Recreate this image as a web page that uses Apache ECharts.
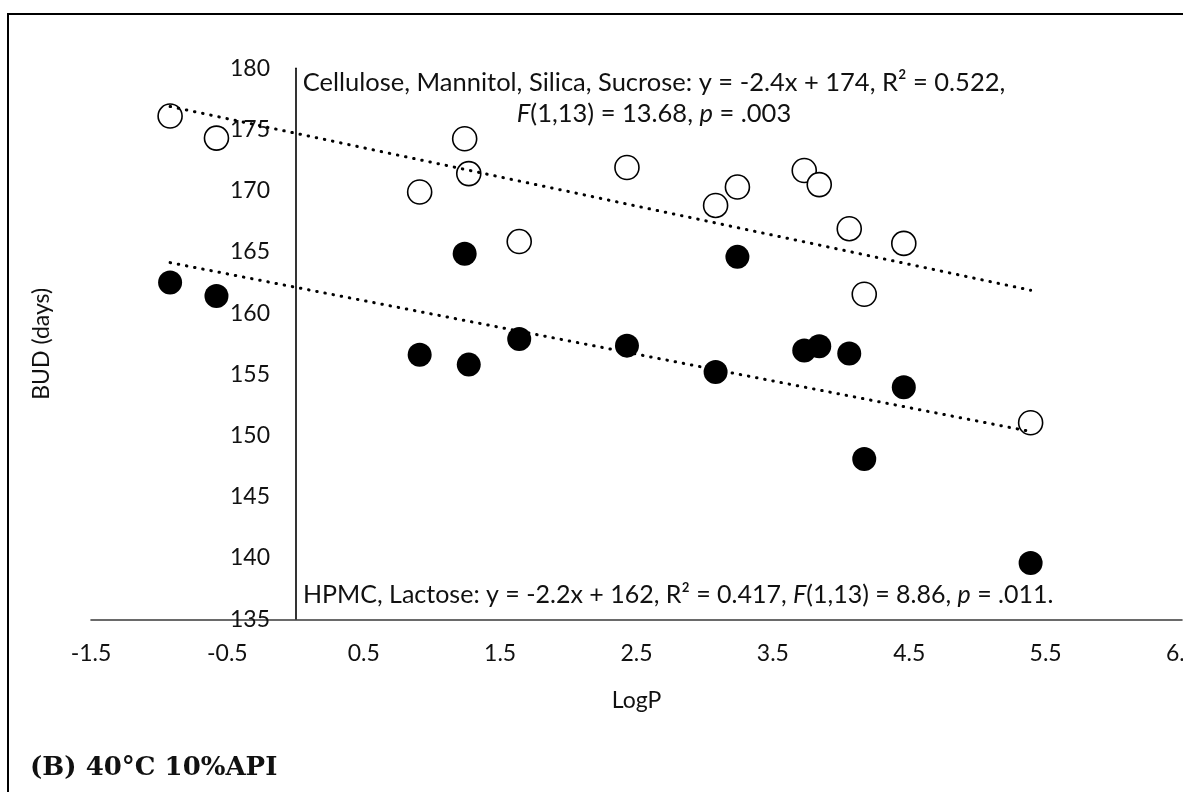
<!DOCTYPE html>
<html>
<head>
<meta charset="utf-8">
<script src="https://cdn.jsdelivr.net/npm/echarts@6/dist/echarts.min.js"></script>
<style>
html,body{margin:0;padding:0;background:#fff;}
#chart{width:1183px;height:792px;}
</style>
</head>
<body>
<div id="chart"></div>
<script>
// ---- data ----
const logP = [-0.92, -0.58, 0.91, 1.24, 1.27, 1.64, 2.43, 3.08, 3.24, 3.73, 3.84, 4.06, 4.17, 4.46, 5.39];
const budCellulose = [176.1, 174.3, 169.9, 174.25, 171.4, 165.85, 171.9, 168.8, 170.3, 171.65, 170.5, 166.9, 161.55, 165.7, 151.05];
const budHPMC = [162.5, 161.4, 156.6, 164.85, 155.8, 157.9, 157.35, 155.2, 164.6, 156.95, 157.3, 156.7, 148.1, 153.95, 139.6];
const xTicks = [-1.5, -0.5, 0.5, 1.5, 2.5, 3.5, 4.5, 5.5, 6.5];
const yTicks = [135, 140, 145, 150, 155, 160, 165, 170, 175, 180];

// least-squares linear trendline over the data range
function trend(xs, ys) {
  const n = xs.length;
  let sx = 0, sy = 0, sxx = 0, sxy = 0;
  for (let i = 0; i < n; i++) { sx += xs[i]; sy += ys[i]; sxx += xs[i]*xs[i]; sxy += xs[i]*ys[i]; }
  const b = (n*sxy - sx*sy) / (n*sxx - sx*sx);
  const a = (sy - b*sx) / n;
  const x0 = Math.min(...xs), x1 = Math.max(...xs);
  return [[x0, a + b*x0], [x1, a + b*x1]];
}
const pts = (xs, ys) => xs.map((x, i) => [x, ys[i]]);

const FONT = 'Lato';
const chart = echarts.init(document.getElementById('chart'), null, {renderer: 'canvas'});
const dotted = {color: '#000', width: 3, type: [0.5, 7.8], cap: 'round'};

chart.setOption({
  animation: false,
  backgroundColor: '#fff',
  grid: {left: 91, right: 1, top: 68.3, bottom: 172.7, containLabel: false, outerBoundsMode: 'none'},
  xAxis: {
    type: 'value', min: -1.5, max: 6.5,
    name: 'LogP', nameLocation: 'middle', nameGap: 70,
    nameTextStyle: {fontFamily: FONT, fontSize: 23, color: '#111'},
    axisLine: {show: true, onZero: false, lineStyle: {color: '#3a3a3a', width: 1.6}},
    axisTick: {show: false},
    splitLine: {show: false},
    axisLabel: {customValues: xTicks, fontFamily: FONT, fontSize: 23, color: '#111', margin: 23,
      showMinLabel: true, showMaxLabel: true, hideOverlap: false}
  },
  yAxis: {
    type: 'value', min: 135, max: 180, interval: 5,
    name: 'BUD (days)', nameLocation: 'middle', nameGap: 38, nameRotate: 90,
    nameTextStyle: {fontFamily: FONT, fontSize: 23, color: '#111'},
    axisLine: {show: true, onZero: true, lineStyle: {color: '#000', width: 1.6}},
    axisTick: {show: false},
    splitLine: {show: false},
    axisLabel: {customValues: yTicks, fontFamily: FONT, fontSize: 23, color: '#111', margin: -179}
  },
  series: [
    {
      name: 'Cellulose, Mannitol, Silica, Sucrose', type: 'scatter', z: 2,
      data: pts(logP, budCellulose), symbol: 'circle', symbolSize: 24,
      itemStyle: {color: '#fff', borderColor: '#000', borderWidth: 1.6, opacity: 1}
    },
    {
      name: 'HPMC, Lactose', type: 'scatter', z: 2,
      data: pts(logP, budHPMC), symbol: 'circle', symbolSize: 24,
      itemStyle: {color: '#000', borderColor: '#000', borderWidth: 0, opacity: 1}
    },
    {
      name: 'trend1', type: 'line', z: 3, data: trend(logP, budCellulose),
      showSymbol: false, symbol: 'none', lineStyle: dotted, silent: true
    },
    {
      name: 'trend2', type: 'line', z: 3, data: trend(logP, budHPMC),
      showSymbol: false, symbol: 'none', lineStyle: dotted, silent: true
    }
  ],
  graphic: [
    {type: 'rect', z: 100, silent: true, shape: {x: 8, y: 14, width: 1300, height: 900},
     style: {fill: 'none', stroke: '#000', lineWidth: 2}},
    {type: 'text', z: 100, x: 654, y: 98.5,
     style: {
       text: 'Cellulose, Mannitol, Silica, Sucrose: y = -2.4x + 174, R² = 0.522,\n{i|F}(1,13) = 13.68, {i|p} = .003',
       font: '25.5px Lato', fill: '#111', align: 'center', verticalAlign: 'middle', lineHeight: 31,
       rich: {i: {fontStyle: 'italic', fontFamily: FONT, fontSize: 25.5, fill: '#111', lineHeight: 31}}
     }},
    {type: 'text', z: 100, x: 303, y: 595,
     style: {
       text: 'HPMC, Lactose: y = -2.2x + 162, R² = 0.417, {i|F}(1,13) = 8.86, {i|p} = .011.',
       font: '25px Lato', fill: '#111', align: 'left', verticalAlign: 'middle',
       rich: {i: {fontStyle: 'italic', fontFamily: FONT, fontSize: 25, fill: '#111'}}
     }},
    {type: 'text', z: 100, x: 30, y: 768,
     style: {text: '(B) 40°C 10%API', font: 'bold 26px "DejaVu Serif"', fill: '#111', verticalAlign: 'middle'}}
  ]
});
</script>
</body>
</html>
